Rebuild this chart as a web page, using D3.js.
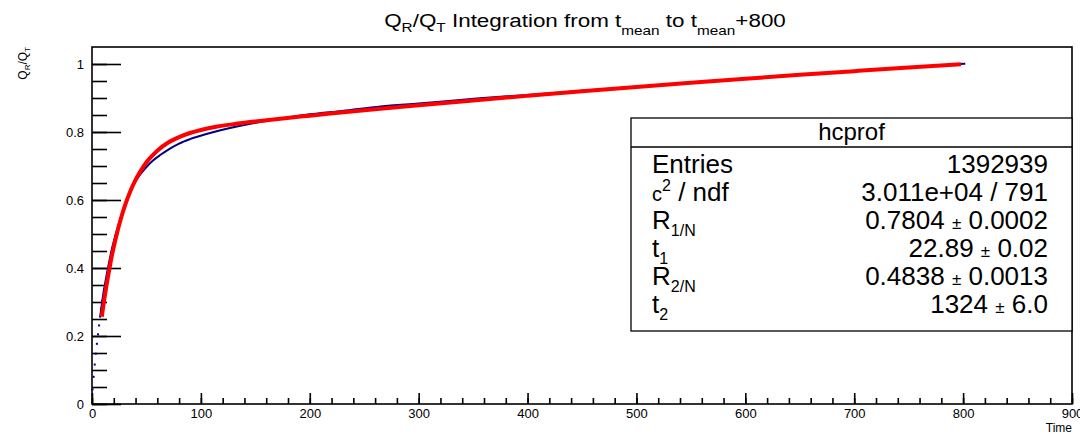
<!DOCTYPE html>
<html><head><meta charset="utf-8">
<script src="https://cdn.jsdelivr.net/npm/d3@7"></script>
<style>
body{margin:0;background:#fff}
svg{display:block}
text{font-family:"Liberation Sans",Arial,Helvetica,sans-serif;fill:#000}
</style>
</head><body>
<svg id="chart" width="1080" height="434"></svg>
<script>
// ---- data ----
const dataTime  = [0.5,1.5,2.5,3.5,4.5,5.5,6.5,7.5,8.5,9.5,11,13,15,18,21,25,30,35,40,45,50,56,63,72,80,90,105,118,133,150,165,180,200,230,265,300,356,400,450,500,550,600,650,700,750,802];
const dataValue = [0.043,0.080,0.116,0.148,0.177,0.205,0.231,0.257,0.281,0.304,0.336,0.372,0.405,0.452,0.490,0.534,0.584,0.624,0.655,0.678,0.697,0.716,0.733,0.752,0.766,0.779,0.794,0.805,0.816,0.827,0.835,0.843,0.852,0.862,0.875,0.884,0.899,0.909,0.921,0.933,0.945,0.957,0.968,0.979,0.990,1.001];
const fitTime   = [9,10,12,14,16,18,20,23,26,30,35,40,45,50,60,70,80,90,100,115,130,150,175,200,250,300,350,400,450,500,550,600,650,700,750,798];
const fitValue  = [0.257,0.280,0.323,0.362,0.398,0.432,0.462,0.503,0.539,0.581,0.624,0.659,0.687,0.711,0.745,0.769,0.785,0.797,0.806,0.816,0.823,0.831,0.840,0.848,0.864,0.8785,0.8928,0.9065,0.9198,0.9326,0.9448,0.9567,0.9681,0.979,0.9896,0.9994];
const xMajorTicks = [0,100,200,300,400,500,600,700,800,900];
const xMinorTicks = d3.range(0, 901, 20);
const yMajorTicks = [0,0.2,0.4,0.6,0.8,1];
const yTickLabels = ["0","0.2","0.4","0.6","0.8","1"];
const yMinorTicks = [0,0.05,0.1,0.15,0.2,0.25,0.3,0.35,0.4,0.45,0.5,0.55,0.6,0.65,0.7,0.75,0.8,0.85,0.9,0.95,1];
const statsTitle = "hcprof";
const statsNames  = [["Entries","",""],["c","","2"],["R","1/N",""],["t","1",""],["R","2/N",""],["t","2",""]];
const statsSuffix = ["",  " / ndf", "", "", "", ""];
const statsValues = [["1392939",""],["3.011e+04 / 791",""],["0.7804","0.0002"],["22.89","0.02"],["0.4838","0.0013"],["1324","6.0"]];

// ---- layout ----
const L = 92, R = 1072, T = 47, B = 404;
const svg = d3.select("#chart");
const x = d3.scaleLinear().domain([0, 900]).range([L, R]);
const y = d3.scaleLinear().domain([0, 1.05]).range([B, T]);

// frame
svg.append("rect").attr("x", L).attr("y", T).attr("width", R - L).attr("height", B - T)
  .attr("fill", "none").attr("stroke", "#000").attr("stroke-width", 1.6);

// y axis
const yMinor = svg.append("g").attr("transform", `translate(${L},0)`)
  .call(d3.axisLeft(y).tickValues(yMinorTicks).tickSizeInner(-15).tickSizeOuter(0).tickFormat(""));
const yMajor = svg.append("g").attr("transform", `translate(${L},0)`)
  .call(d3.axisLeft(y).tickValues(yMajorTicks).tickSizeInner(-29).tickSizeOuter(0).tickPadding(8)
    .tickFormat((d, i) => yTickLabels[i]));
// x axis
const xMinor = svg.append("g").attr("transform", `translate(0,${B})`)
  .call(d3.axisBottom(x).tickValues(xMinorTicks).tickSizeInner(-6).tickSizeOuter(0).tickFormat(""));
const xMajor = svg.append("g").attr("transform", `translate(0,${B})`)
  .call(d3.axisBottom(x).tickValues(xMajorTicks).tickSizeInner(-11).tickSizeOuter(0).tickPadding(5)
    .tickFormat(d3.format("d")));
[yMinor, yMajor, xMinor, xMajor].forEach(g => {
  g.select(".domain").remove();
  g.selectAll(".tick line").attr("stroke", "#000").attr("stroke-width", 1.6);
  g.selectAll("text").attr("font-size", 13).attr("font-family", '"Liberation Sans",Arial,sans-serif').attr("fill", "#000");
});

// data curve (profile points)
svg.append("path")
  .datum(dataTime.map((t, i) => [t, dataValue[i]]).filter(d => d[0] >= 7.5))
  .attr("fill", "none").attr("stroke", "#000080").attr("stroke-width", 2)
  .attr("d", d3.line().x(d => x(d[0])).y(d => y(d[1])).curve(d3.curveMonotoneX));
svg.append("g").selectAll("rect")
  .data(dataTime.map((t, i) => [t, dataValue[i]]).filter(d => d[0] < 12))
  .join("rect")
  .attr("x", d => x(d[0]) - 1).attr("y", d => y(d[1]) - 1)
  .attr("width", 2).attr("height", 2).attr("fill", "#000080");

// fit curve
svg.append("path")
  .datum(fitTime.map((t, i) => [t, fitValue[i]]))
  .attr("fill", "none").attr("stroke", "#ff0000").attr("stroke-width", 4)
  .attr("stroke-linecap", "butt")
  .attr("d", d3.line().x(d => x(d[0])).y(d => y(d[1])).curve(d3.curveMonotoneX));

// title
const title = svg.append("text").attr("x", 0).attr("y", 27).attr("font-size", 19).attr("text-anchor", "middle");
title.append("tspan").text("Q");
title.append("tspan").attr("font-size", 13).attr("dy", 5).text("R");
title.append("tspan").attr("dy", -5).text("/Q");
title.append("tspan").attr("font-size", 13).attr("dy", 5).text("T");
title.append("tspan").attr("dy", -5).text(" Integration from t");
title.append("tspan").attr("font-size", 13).attr("dy", 8).text("mean");
title.append("tspan").attr("dy", -8).text(" to t");
title.append("tspan").attr("font-size", 13).attr("dy", 8).text("mean");
title.append("tspan").attr("dy", -8).text("+800");
{
  const w = title.node().getBBox().width;
  const s = 402 / w;
  title.attr("transform", `translate(585,0) scale(${s},1)`);
}

// y axis title
const yt = svg.append("text").attr("transform", "translate(27,47) rotate(-90)")
  .attr("text-anchor", "end").attr("font-size", 12);
yt.append("tspan").text("Q");
yt.append("tspan").attr("font-size", 8).attr("dy", 3).text("R");
yt.append("tspan").attr("dy", -3).text("/Q");
yt.append("tspan").attr("font-size", 8).attr("dy", 3).text("T");

// x axis title
svg.append("text").attr("x", R).attr("y", 432).attr("text-anchor", "end").attr("font-size", 12).text("Time");

// stats box
const bx = 631, by = 118, bw = R - 631, bh = 213, hy = 147;
const box = svg.append("g");
box.append("rect").attr("x", bx).attr("y", by).attr("width", bw).attr("height", bh)
  .attr("fill", "#fff").attr("stroke", "#000").attr("stroke-width", 1.3);
box.append("line").attr("x1", bx).attr("x2", bx + bw).attr("y1", hy).attr("y2", hy)
  .attr("stroke", "#000").attr("stroke-width", 1.3);
box.append("text").attr("x", bx + bw / 2).attr("y", 140).attr("text-anchor", "middle")
  .attr("font-size", 24).text(statsTitle);
statsNames.forEach((nm, i) => {
  const yy = 173 + i * 28;
  const t = box.append("text").attr("x", 652).attr("y", yy).attr("font-size", 26);
  if (nm[0] === "c") {
    t.append("tspan").attr("font-size", 20).text("c");
    t.append("tspan").attr("font-size", 16).attr("dy", -10).text(nm[2]);
    t.append("tspan").attr("dy", 10).text(statsSuffix[i]);
  } else {
    t.append("tspan").text(nm[0]);
    if (nm[1]) t.append("tspan").attr("font-size", 16).attr("dy", 7).text(nm[1]);
  }
  const v = box.append("text").attr("x", 1048).attr("y", yy).attr("font-size", 26).attr("text-anchor", "end");
  const val = statsValues[i];
  if (val[1]) {
    v.append("tspan").text(val[0] + " ");
    v.append("tspan").attr("font-size", 17).text("±");
    v.append("tspan").text(" " + val[1]);
  } else {
    v.append("tspan").text(val[0]);
  }
});
</script>
</body></html>
